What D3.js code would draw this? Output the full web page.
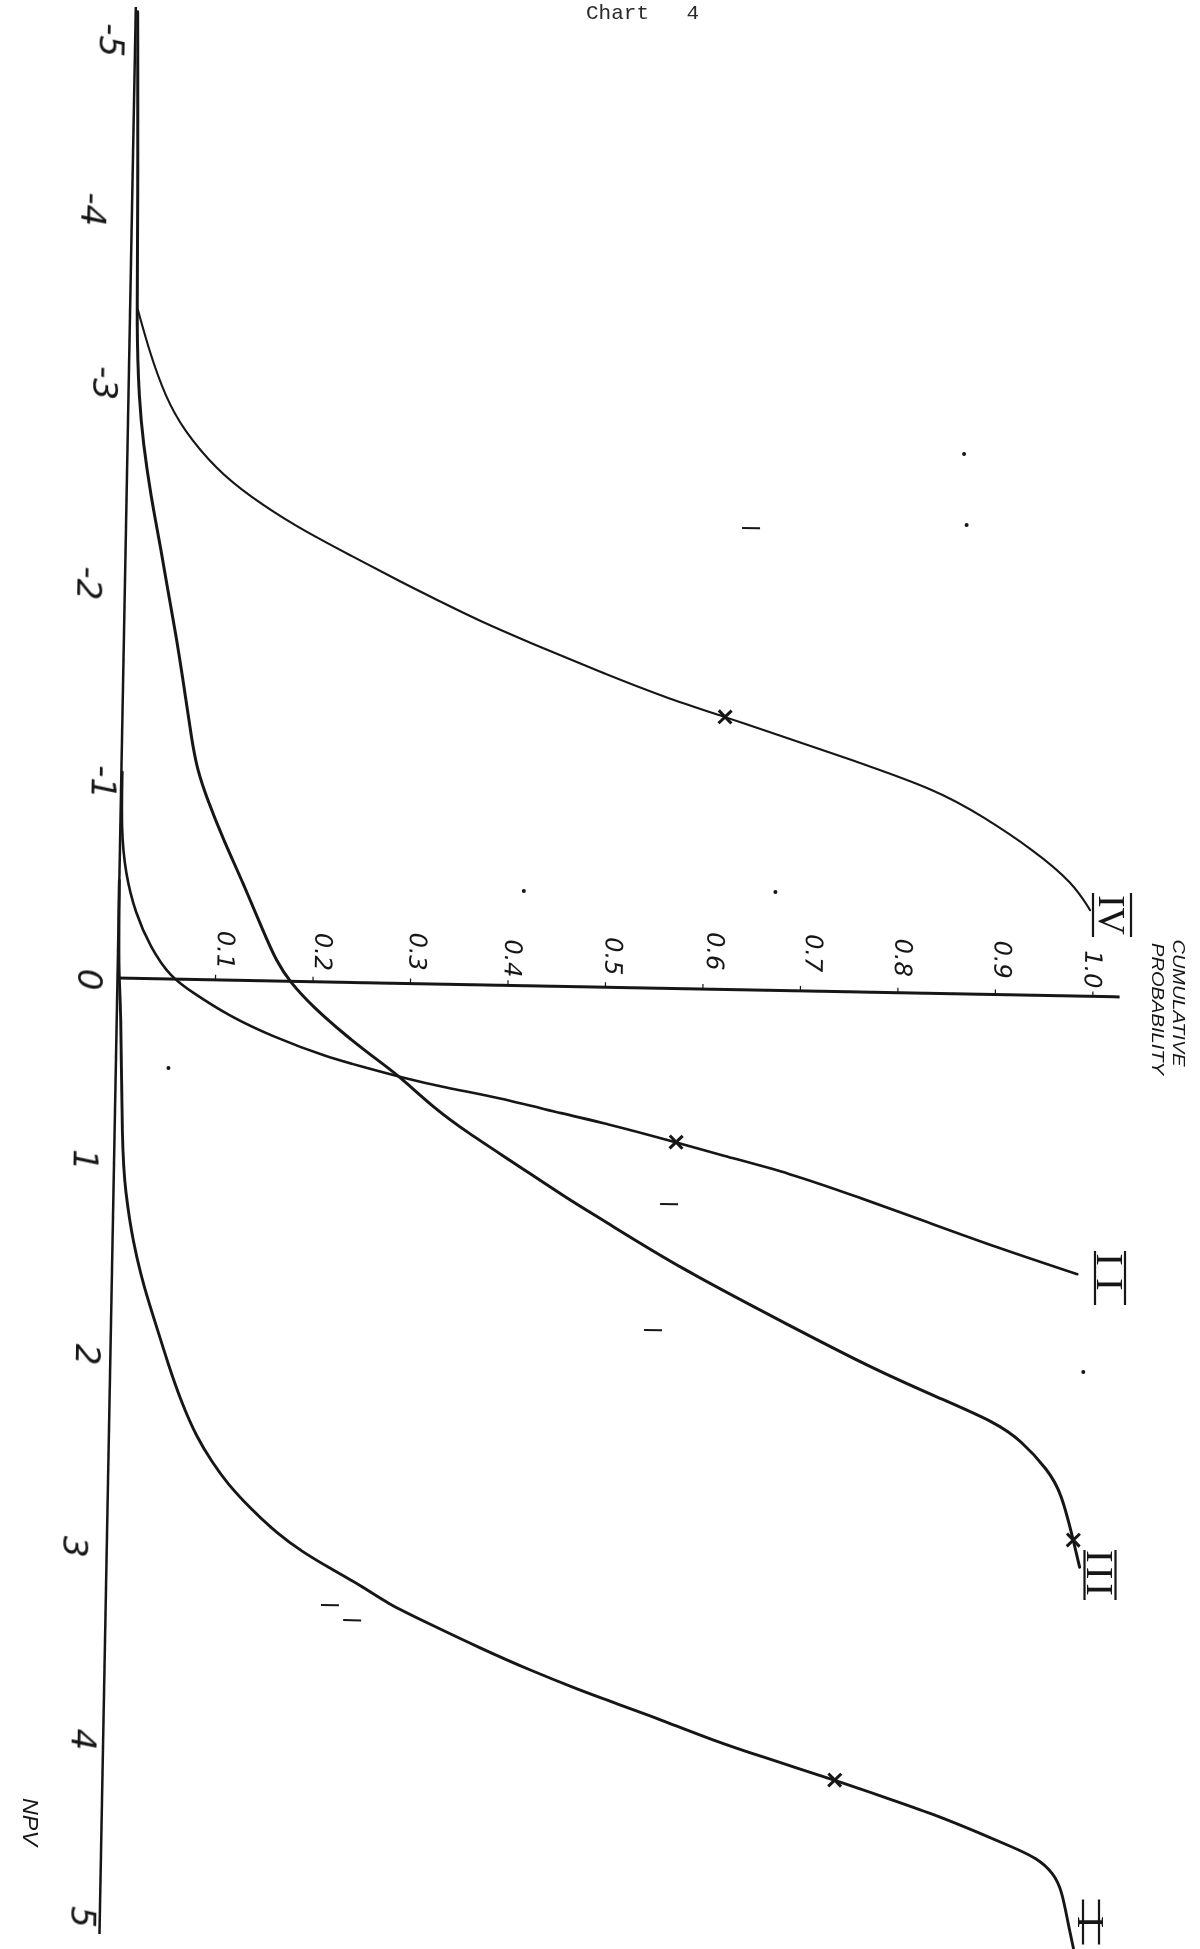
<!DOCTYPE html>
<html>
<head>
<meta charset="utf-8">
<script src="https://cdn.jsdelivr.net/npm/d3@7/dist/d3.min.js"></script>
<style>
html,body{margin:0;padding:0;background:#fff}
svg{display:block}
</style>
</head>
<body>
<div id="chart"></div>
<script>
// ---- data: [NPV, cumulative probability]
const curveI = [[-0.52,0.000],[0,0.001],[0.117,0.004],[0.917,0.008],[1.13,0.012],[1.412,0.021],[1.661,0.034],[1.857,0.047],[2.048,0.059],[2.26,0.074],[2.44,0.09],[2.577,0.107],[2.682,0.122],[2.813,0.146],[2.944,0.174],[3.043,0.201],[3.125,0.229],[3.223,0.264],[3.306,0.288],[3.407,0.33],[3.537,0.385],[3.649,0.436],[3.751,0.488],[3.812,0.522],[3.913,0.578],[4.004,0.625],[4.085,0.674],[4.205,0.751],[4.296,0.805],[4.377,0.853],[4.474,0.901],[4.545,0.935],[4.601,0.96],[4.679,0.977],[4.769,0.986],[4.945,0.993],[5.077,0.999]];
const curveII = [[-1.099,0.001],[-0.79,0.001],[-0.561,0.006],[-0.348,0.017],[-0.169,0.033],[-0.011,0.054],[0.072,0.078],[0.186,0.113],[0.299,0.161],[0.4,0.216],[0.455,0.258],[0.5,0.292],[0.554,0.34],[0.597,0.391],[0.685,0.464],[0.719,0.498],[0.819,0.576],[0.884,0.622],[0.973,0.693],[1.094,0.764],[1.22,0.835],[1.347,0.906],[1.483,0.99]];
const curveIII = [[-5.154,0.002],[-4.151,0.006],[-3.458,0.007],[-3.085,0.011],[-2.856,0.016],[-2.569,0.025],[-2.324,0.035],[-2.075,0.044],[-1.845,0.053],[-1.58,0.062],[-1.261,0.072],[-1.117,0.078],[-0.969,0.088],[-0.747,0.106],[-0.519,0.127],[-0.27,0.148],[-0.101,0.163],[0.004,0.177],[0.135,0.201],[0.292,0.237],[0.422,0.271],[0.5,0.292],[0.657,0.326],[0.786,0.361],[0.942,0.409],[1.139,0.468],[1.231,0.499],[1.49,0.582],[1.783,0.695],[2.015,0.785],[2.168,0.856],[2.285,0.91],[2.373,0.935],[2.531,0.964],[2.652,0.978],[2.901,0.991],[3.045,0.998]];
const curveIV = [[-3.565,0.008],[-3.337,0.021],[-3.103,0.038],[-2.929,0.057],[-2.719,0.092],[-2.579,0.127],[-2.423,0.175],[-2.279,0.23],[-2.135,0.285],[-2.037,0.325],[-1.946,0.362],[-1.828,0.417],[-1.681,0.489],[-1.553,0.555],[-1.453,0.618],[-1.363,0.672],[-1.251,0.74],[-1.085,0.837],[-0.946,0.885],[-0.774,0.937],[-0.603,0.978],[-0.46,0.996]];
const crossMarks = [[4.205,0.751],[0.819,0.576],[2.901,0.991],[-1.453,0.618]];
const curveNames = ["I","II","III","IV"];
const npvTicks = [-5,-4,-3,-2,-1,0,1,2,3,4,5];
const npvLabels = ["-5","-4","-3","-2","-1","0","1","2","3","4","5"];
const probTicks = [0.1,0.2,0.3,0.4,0.5,0.6,0.7,0.8,0.9,1.0];
const probLabels = ["0.1","0.2","0.3","0.4","0.5","0.6","0.7","0.8","0.9","1.0"];
const npvAxisExtent = [-5.18,5.1];
const probAxisExtent = [0,1.028];
const specks = [[-0.505,0.415],[-0.525,0.673],[0.475,0.054],[2.004,0.998],[-2.879,0.858],[-2.501,0.862]];
const dashes = [[-2.463,0.641],[1.15,0.57],[1.824,0.556],[3.323,0.23],[3.401,0.253]];

// ---- layout
const W=1200,H=1949, ox=117.5, oy=978, tilt=1.08;
const x = d3.scaleLinear().domain([0,1]).range([ox,ox+975]);
const y = d3.scaleLinear().domain([-5,5]).range([oy-937.5,oy+937.5]);
// hand-placed label offsets (px, local frame)
const npvNudge = [[-24,0],[-39,-18],[-24,-32],[-36,-19],[-18,-8],[-28,2],[-29,-5],[-23,2],[-32,7],[-20,12],[-17,2]];
const probNudge = [[10,-30],[10,-30],[7,-32],[5,-27],[8,-31],[12,-38],[13,-38],[5,-35],[7,-35],[0,-27]];
const romanPos = [[1091,1922,45,16,0],[1110,1278,54,30,12],[1100,1575,50,31,4],[1112,915,44,38,0]];
const ink="#161616";

const svg=d3.select("#chart").append("svg").attr("width",W).attr("height",H).attr("viewBox",`0 0 ${W} ${H}`);
svg.append("rect").attr("width",W).attr("height",H).attr("fill","#fff");
const defs=svg.append("defs");
defs.append("filter").attr("id","soft").append("feGaussianBlur").attr("stdDeviation",0.45);
const root=svg.append("g").attr("filter","url(#soft)");
const plot=root.append("g").attr("transform",`rotate(${tilt},${ox},${oy})`);

const line=d3.line().x(d=>x(d[1])).y(d=>y(d[0])).curve(d3.curveBasis);

// axes
const probAxis=d3.axisTop(x).tickValues(probTicks).tickSize(5).tickFormat("");
const gp=plot.append("g").attr("transform",`translate(0,${oy})`).call(probAxis);
gp.select(".domain").remove();
gp.selectAll("line").attr("stroke",ink).attr("stroke-width",1.2);
plot.append("path").attr("d",d3.line().x(d=>x(d)).y(oy)(probAxisExtent))
  .attr("fill","none").attr("stroke",ink).attr("stroke-width",3);
plot.append("path").attr("d",d3.line().x(ox).y(d=>y(d))(npvAxisExtent))
  .attr("fill","none").attr("stroke",ink).attr("stroke-width",2.5);

// curves
const widths=[2.9,2.6,3,2.1];
[curveI,curveII,curveIII,curveIV].forEach((c,i)=>{
  plot.append("path").datum(c).attr("d",line).attr("fill","none").attr("stroke",ink)
    .attr("stroke-width",widths[i]).attr("stroke-linejoin","round").attr("stroke-linecap","round");
});

// crosses
plot.selectAll(".cross").data(crossMarks).join("path").attr("class","cross")
  .attr("d",d3.symbol(d3.symbolTimes).size(110))
  .attr("transform",d=>`translate(${x(d[1])},${y(d[0])})`)
  .attr("fill","none").attr("stroke",ink).attr("stroke-width",3);

// specks from the scan
plot.selectAll(".speck").data(specks).join("circle").attr("class","speck")
  .attr("cx",d=>x(d[1])).attr("cy",d=>y(d[0])).attr("r",2).attr("fill",ink);
plot.selectAll(".dash").data(dashes).join("line").attr("class","dash")
  .attr("x1",d=>x(d[1])-9).attr("x2",d=>x(d[1])+9).attr("y1",d=>y(d[0])).attr("y2",d=>y(d[0]))
  .attr("stroke",ink).attr("stroke-width",2);

// tick labels (rotated a quarter turn, as drawn on the sideways page)
const hand='"DejaVu Sans",sans-serif';
npvTicks.forEach((t,i)=>{
  const px=ox+npvNudge[i][0], py=y(t)+npvNudge[i][1];
  plot.append("text").attr("transform",`translate(${px},${py}) rotate(90)`)
    .attr("text-anchor","middle").attr("dominant-baseline","central")
    .attr("font-family",hand).attr("font-size",34).attr("font-style","oblique").attr("fill",ink)
    .text(npvLabels[i]);
});
probTicks.forEach((t,i)=>{
  const px=x(t)+probNudge[i][0], py=oy+probNudge[i][1];
  plot.append("text").attr("transform",`translate(${px},${py}) rotate(90)`)
    .attr("text-anchor","middle").attr("dominant-baseline","central")
    .attr("font-family",hand).attr("font-size",24).attr("font-style","oblique").attr("fill",ink)
    .text(probLabels[i]);
});

// curve names with the bars above and below
curveNames.forEach((n,i)=>{
  const [cx,cy,len,gap,sp]=romanPos[i];
  const g=root.append("g").attr("transform",`translate(${cx},${cy}) rotate(90)`);
  g.append("text").attr("text-anchor","middle").attr("dominant-baseline","central")
    .attr("font-family",'"Liberation Serif",serif').attr("font-size",38).attr("letter-spacing",sp)
    .attr("fill",ink).text(n);
  [-gap/2,gap/2].forEach(b=>g.append("line").attr("x1",-len/2).attr("x2",len/2).attr("y1",b).attr("y2",b)
    .attr("stroke",ink).attr("stroke-width",2.2));
});

// axis titles
const title=(txt,cx,cy,len,fs)=>root.append("text")
  .attr("transform",`translate(${cx},${cy}) rotate(90)`).attr("text-anchor","middle")
  .attr("dominant-baseline","central").attr("font-family",'"Liberation Sans",sans-serif')
  .attr("font-size",fs).attr("font-style","italic").attr("fill",ink)
  .attr("textLength",len).attr("lengthAdjust","spacingAndGlyphs").text(txt);
title("CUMULATIVE",1178,1003,127,17);
title("PROBABILITY",1157,1009,132,17);
title("NPV",31,1822,48,22);

// typed caption
root.append("text").attr("x",586).attr("y",19).attr("font-family",'"Liberation Mono",monospace')
  .attr("font-size",21).attr("word-spacing",25).attr("fill","#2a2a2a").text("Chart 4");
</script>
</body>
</html>
